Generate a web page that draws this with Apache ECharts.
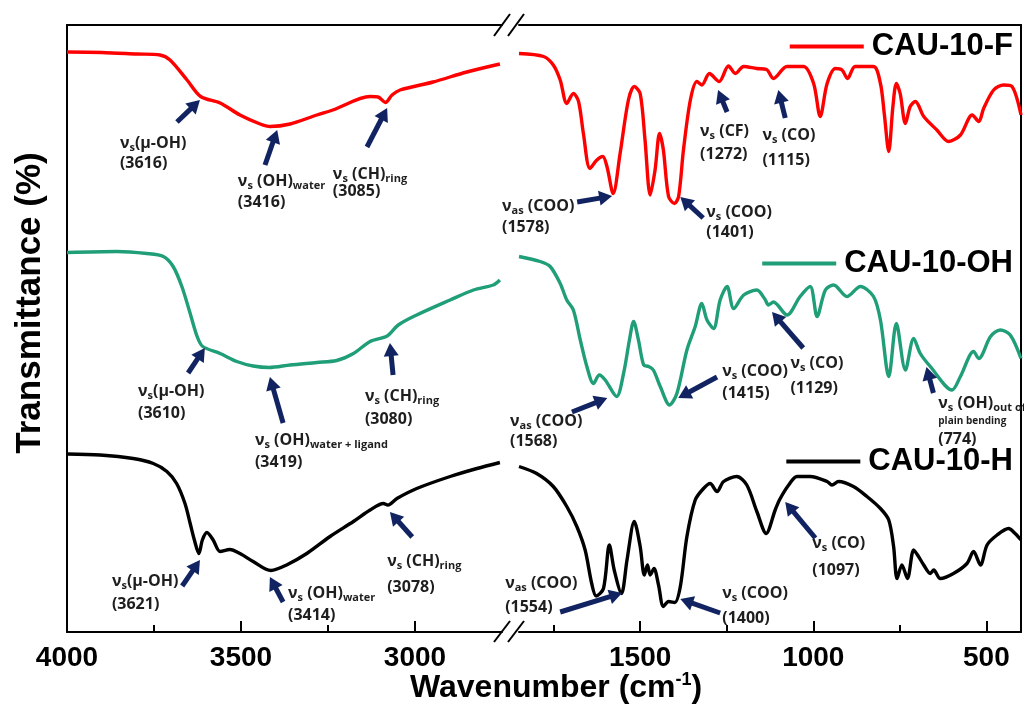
<!DOCTYPE html>
<html>
<head>
<meta charset="utf-8">
<title>FTIR spectra of CAU-10-F, CAU-10-OH and CAU-10-H</title>
<script src="https://cdn.jsdelivr.net/npm/echarts@6/dist/echarts.min.js"></script>
<style>
  html, body { margin: 0; padding: 0; background: #ffffff; }
  #chart { width: 1024px; height: 704px; }
</style>
</head>
<body>
<div id="chart"></div>
<script>
// ---- Spectra: [wavenumber (cm-1), transmittance (offset, a.u.)] ----
const fHigh = [
  [4000,116.0],[3900,115.9],[3800,115.6],[3733,115.4],[3704,114.4],[3655,110.4],[3616,107.1],
  [3560,105.8],[3503,103.4],[3445,101.6],[3416,101.1],[3359,101.6],[3282,103.4],[3236,104.4],
  [3129,107.1],[3106,107.0],[3085,105.9],[3066,107.4],[3043,108.4],[2948,110.0],[2851,112.0],[2756,113.6]
];
const fLow = [
  [1850,115.7],[1779,115.1],[1751,113.4],[1731,110.4],[1712,105.7],[1693,107.7],[1678,106.1],
  [1664,99.7],[1645,92.7],[1625,94.4],[1608,95.1],[1596,93.1],[1578,87.7],[1558,95.7],[1534,106.4],
  [1517,109.1],[1500,107.7],[1486,98.4],[1471,87.4],[1457,92.4],[1444,99.7],[1433,96.4],[1418,87.1],
  [1401,85.7],[1389,87.1],[1375,96.4],[1355,106.4],[1336,110.1],[1322,109.4],[1300,111.7],[1272,110.1],
  [1245,113.2],[1225,111.7],[1201,113.1],[1163,112.7],[1135,112.5],[1115,110.7],[1076,113.1],
  [1028,113.1],[999,109.7],[980,103.1],[960,109.7],[936,112.7],[917,112.4],[901,110.7],[879,113.1],
  [826,113.1],[806,109.7],[795,103.7],[782,96.1],[770,105.1],[760,109.7],[749,107.7],[734,101.7],
  [720,105.1],[705,106.1],[681,103.1],[643,100.4],[609,98.1],[575,99.4],[541,103.4],[522,102.1],
  [508,104.7],[479,108.4],[450,109.4],[426,109.1],[400,103.4]
];
const ohHigh = [
  [4000,75.9],[3857,76.1],[3771,75.7],[3723,75.1],[3695,73.1],[3670,69.1],[3646,63.7],[3626,59.1],
  [3610,57.1],[3560,55.7],[3512,54.1],[3465,53.2],[3419,52.9],[3359,53.4],[3282,53.9],[3225,54.3],
  [3177,55.7],[3129,58.1],[3080,59.2],[3048,61.4],[2995,63.4],[2899,66.4],[2832,68.4],[2775,69.4],[2756,70.4]
];
const ohLow = [
  [1850,75.1],[1789,74.1],[1760,73.1],[1731,69.7],[1712,66.4],[1693,64.4],[1673,58.4],[1654,53.1],
  [1635,49.7],[1618,51.4],[1601,50.4],[1568,47.1],[1548,51.7],[1531,58.4],[1519,62.1],[1505,58.4],
  [1490,53.4],[1476,53.1],[1462,52.4],[1442,49.1],[1415,45.4],[1394,47.7],[1365,56.4],[1341,61.1],
  [1322,65.7],[1307,62.4],[1288,60.7],[1269,66.4],[1249,69.1],[1230,64.7],[1201,67.4],[1163,68.4],
  [1140,66.6],[1129,65.4],[1115,66.0],[1076,63.4],[1038,67.1],[1009,69.1],[989,63.1],[965,68.4],
  [941,69.4],[903,67.1],[864,69.1],[826,67.1],[806,62.4],[782,51.1],[760,61.7],[734,52.4],[710,58.7],
  [691,55.7],[662,53.1],[599,48.4],[575,51.1],[537,56.1],[522,54.7],[488,59.1],[460,60.4],[431,59.4],[400,54.7]
];
const hHigh = [
  [4000,35.6],[3905,35.4],[3810,34.7],[3752,33.7],[3713,32.1],[3685,29.7],[3661,25.7],[3646,21.7],
  [3634,18.4],[3621,15.7],[3611,18.4],[3598,19.9],[3580,18.4],[3560,16.1],[3532,16.5],[3503,15.7],
  [3465,14.1],[3414,12.3],[3369,13.4],[3311,15.7],[3244,19.1],[3177,22.1],[3129,24.4],[3091,25.7],
  [3078,25.4],[3052,26.7],[2995,28.7],[2899,31.1],[2822,32.7],[2756,33.9]
];
const hLow = [
  [1850,33.1],[1799,31.7],[1751,29.1],[1712,25.1],[1683,21.1],[1659,16.4],[1640,9.7],[1627,7.2],
  [1606,8.7],[1589,17.4],[1575,12.4],[1554,7.7],[1538,14.4],[1517,22.1],[1500,17.1],[1488,11.4],
  [1479,13.4],[1471,11.4],[1460,12.7],[1447,9.4],[1433,5.1],[1418,6.1],[1400,5.9],[1384,9.1],
  [1365,19.1],[1341,26.4],[1317,28.7],[1298,29.7],[1278,28.1],[1259,30.1],[1221,31.1],[1192,29.4],
  [1163,24.1],[1136,19.7],[1110,24.4],[1097,26.5],[1071,29.4],[1047,31.1],[1009,31.1],[960,30.1],
  [946,29.4],[927,30.1],[884,29.1],[845,27.1],[806,24.7],[782,22.4],[768,17.1],[758,10.7],[744,13.4],
  [728,10.7],[710,16.4],[696,15.1],[681,13.4],[662,11.7],[652,12.4],[633,10.7],[595,11.7],[556,13.7],
  [537,16.1],[517,13.4],[498,17.4],[469,19.4],[436,20.7],[417,19.7],[400,18.4]
];

const sampleNames = ['CAU-10-F', 'CAU-10-OH', 'CAU-10-H'];

// ---- Broken wavenumber axis: two ranges ----
const highRange = [2750, 4000];
const lowRange = [400, 1850];
const highLabels = [4000, 3500, 3000];
const highMajorTicks = [3500, 3000];
const highMinorTicks = [3750, 3250];
const lowLabels = [1500, 1000, 500];
const lowMajorTicks = [1500, 1000, 500];
const lowMinorTicks = [1750, 1250, 750];

// ---- Band assignments: text lines, text anchor, arrow tail, arrow tip (data coords) ----
const bands = [
  { panel: 0, gap: 20, lines: ['{n|ν}{s|s}{t|(μ-OH)}', '{u|(3616)}'], at: [3848, 99.8], from: [3684, 102.0], to: [3618, 106.4] },
  { panel: 0, gap: 21, lines: ['{n|ν}{s|s}{t| (OH)}{s|water}', '{u|(3416)}'], at: [3509, 92.2], from: [3431, 93.4], to: [3396, 100.4] },
  { panel: 0, gap: 17, lines: ['{n|ν}{s|s}{t| (CH)}{s|ring}', '{u|(3085)}'], at: [3236, 93.6], from: [3138, 97.0], to: [3080, 104.8] },
  { panel: 1, gap: 21, lines: ['{n|ν}{s|as}{t| (COO)}', '{u|(1578)}'], at: [1899, 87.2], from: [1682, 86.0], to: [1581, 87.2] },
  { panel: 1, gap: 20, lines: ['{n|ν}{s|s}{t| (COO)}', '{u|(1401)}'], at: [1309, 86.0], from: [1318, 82.8], to: [1384, 87.0] },
  { panel: 1, gap: 23, lines: ['{n|ν}{s|s}{t| (CF)}', '{u|(1272)}'], at: [1327, 102.1], from: [1249, 104.0], to: [1275, 108.4] },
  { panel: 1, gap: 25, lines: ['{n|ν}{s|s}{t| (CO)}', '{u|(1115)}'], at: [1147, 101.4], from: [1081, 102.8], to: [1101, 108.4] },

  { panel: 0, gap: 22, lines: ['{n|ν}{s|s}{t|(μ-OH)}', '{u|(3610)}'], at: [3796, 50.2], from: [3652, 51.8], to: [3604, 56.8] },
  { panel: 0, gap: 22, lines: ['{n|ν}{s|s}{t| (OH)}{s|water + ligand}', '{u|(3419)}'], at: [3460, 40.4], from: [3379, 41.8], to: [3417, 51.0] },
  { panel: 0, gap: 23, lines: ['{n|ν}{s|s}{t| (CH)}{s|ring}', '{u|(3080)}'], at: [3144, 49.2], from: [3063, 51.4], to: [3072, 57.8] },
  { panel: 1, gap: 20, lines: ['{n|ν}{s|as}{t| (COO)}', '{u|(1568)}'], at: [1876, 44.2], from: [1697, 44.0], to: [1595, 46.8] },
  { panel: 1, gap: 22, lines: ['{n|ν}{s|s}{t| (COO)}', '{u|(1415)}'], at: [1263, 54.2], from: [1278, 51.0], to: [1390, 46.8] },
  { panel: 1, gap: 25, lines: ['{n|ν}{s|s}{t| (CO)}', '{u|(1129)}'], at: [1066, 55.8], from: [1029, 56.8], to: [1119, 64.0] },
  { panel: 1, gap: 20, lines: ['{n|ν}{s|s}{t| (OH)}{s|out of}', '{p|plain bending}', '{u|(774)}'], at: [639, 47.8], from: [653, 47.8], to: [673, 53.0] },

  { panel: 0, gap: 23, lines: ['{n|ν}{s|s}{t|(μ-OH)}', '{u|(3621)}'], at: [3871, 12.2], from: [3669, 9.2], to: [3618, 14.4] },
  { panel: 0, gap: 22, lines: ['{n|ν}{s|s}{t| (OH)}{s|water}', '{u|(3414)}'], at: [3365, 9.8], from: [3379, 6.0], to: [3417, 11.0] },
  { panel: 0, gap: 26, lines: ['{n|ν}{s|s}{t| (CH)}{s|ring}', '{u|(3078)}'], at: [3080, 16.2], from: [3008, 19.0], to: [3072, 24.0] },
  { panel: 1, gap: 24, lines: ['{n|ν}{s|as}{t| (COO)}', '{u|(1554)}'], at: [1890, 11.8], from: [1731, 4.0], to: [1552, 7.8] },
  { panel: 1, gap: 25, lines: ['{n|ν}{s|s}{t| (COO)}', '{u|(1400)}'], at: [1263, 9.8], from: [1269, 3.8], to: [1384, 6.6] },
  { panel: 1, gap: 27, lines: ['{n|ν}{s|s}{t| (CO)}', '{u|(1097)}'], at: [1003, 19.8], from: [994, 18.8], to: [1081, 26.0] }
];

// ---- Styling ----
const COLORS = ['#ff0000', '#1f9e78', '#000000'];
const ARROW = '#112361';
const NOTE_TEXT = '#1e1e1e';
const AXIS_FONT = 'Liberation Sans, Arial, sans-serif';
const NOTE_FONT = 'Open Sans, DejaVu Sans, sans-serif';
const Y_MAX = 121.4;
const PLOT_TOP = 25, PLOT_HEIGHT = 607;
const HIGH_LEFT = 67, HIGH_WIDTH = 435;
const LOW_LEFT = 519, LOW_WIDTH = 502;

const frameLine = { show: true, lineStyle: { color: '#000', width: 2 } };

function panelAxes(gridIndex, range, labels, majors, minors) {
  return [
    { // bottom axis: labels + major ticks
      type: 'value', gridIndex, min: range[0], max: range[1], inverse: true, position: 'bottom',
      axisLine: frameLine,
      axisTick: { show: true, inside: true, length: 11, customValues: majors, lineStyle: { color: '#000', width: 2 } },
      axisLabel: {
        show: true, customValues: labels, margin: 12, color: '#000',
        fontFamily: AXIS_FONT, fontWeight: 'bold', fontSize: 28,
        formatter: function (v) { return String(v); }
      },
      splitLine: { show: false }
    },
    { // bottom axis: minor ticks only
      type: 'value', gridIndex, min: range[0], max: range[1], inverse: true, position: 'bottom',
      axisLine: { show: false },
      axisTick: { show: true, inside: true, length: 7, customValues: minors, lineStyle: { color: '#000', width: 2 } },
      axisLabel: { show: false },
      splitLine: { show: false }
    },
    { // top frame line
      type: 'value', gridIndex, min: range[0], max: range[1], inverse: true, position: 'top',
      axisLine: frameLine, axisTick: { show: false }, axisLabel: { show: false }, splitLine: { show: false }
    }
  ];
}

function frameYAxis(gridIndex, position) {
  return {
    type: 'value', gridIndex, min: 0, max: Y_MAX, position,
    axisLine: frameLine, axisTick: { show: false }, axisLabel: { show: false }, splitLine: { show: false }
  };
}

function spectrum(name, data, panel, color) {
  return {
    type: 'line', name, data,
    xAxisIndex: panel * 3, yAxisIndex: panel,
    symbol: 'none', smooth: 0.3, silent: true,
    lineStyle: { color, width: 3.4 }, itemStyle: { color },
    emphasis: { disabled: true }
  };
}

function sampleLegend(name, top) {
  return {
    data: [name], right: 11, top, padding: 0, orient: 'horizontal',
    icon: 'rect', itemWidth: 74, itemHeight: 4, selectedMode: false,
    textStyle: { fontFamily: AXIS_FONT, fontWeight: 'bold', fontSize: 31, color: '#000', padding: [0, 0, 0, 3] }
  };
}

const chart = echarts.init(document.getElementById('chart'), null, { renderer: 'canvas' });

chart.setOption({
  animation: false,
  backgroundColor: '#ffffff',
  grid: [
    { left: HIGH_LEFT, top: PLOT_TOP, width: HIGH_WIDTH, height: PLOT_HEIGHT, containLabel: false },
    { left: LOW_LEFT, top: PLOT_TOP, width: LOW_WIDTH, height: PLOT_HEIGHT, containLabel: false }
  ],
  xAxis: [
    ...panelAxes(0, highRange, highLabels, highMajorTicks, highMinorTicks),
    ...panelAxes(1, lowRange, lowLabels, lowMajorTicks, lowMinorTicks)
  ],
  yAxis: [frameYAxis(0, 'left'), frameYAxis(1, 'right')],
  title: {
    left: 410, top: 671, padding: 0,
    text: '{a|Wavenumber (cm}{b|-1}{a|)}',
    textStyle: {
      rich: {
        a: { fontFamily: AXIS_FONT, fontWeight: 'bold', fontSize: 32, color: '#000', lineHeight: 34 },
        b: { fontFamily: AXIS_FONT, fontWeight: 'bold', fontSize: 18, color: '#000', lineHeight: 34, verticalAlign: 'top', padding: [0, 0, 14, 0] }
      }
    }
  },
  legend: [
    sampleLegend(sampleNames[0], 31),
    sampleLegend(sampleNames[1], 248),
    sampleLegend(sampleNames[2], 446)
  ],
  series: [
    spectrum(sampleNames[0], fHigh, 0, COLORS[0]),
    spectrum(sampleNames[0], fLow, 1, COLORS[0]),
    spectrum(sampleNames[1], ohHigh, 0, COLORS[1]),
    spectrum(sampleNames[1], ohLow, 1, COLORS[1]),
    spectrum(sampleNames[2], hHigh, 0, COLORS[2]),
    spectrum(sampleNames[2], hLow, 1, COLORS[2])
  ]
});

// ---- Overlay: axis break marks, y-axis title, band arrows and labels ----
function toPixel(panel, pt) {
  return chart.convertToPixel({ seriesIndex: panel }, pt);
}

function arrowShapes(p0, p1) {
  const dx = p1[0] - p0[0], dy = p1[1] - p0[1];
  const len = Math.hypot(dx, dy) || 1;
  const ux = dx / len, uy = dy / len;
  const head = 13, half = 7.5;
  const bx = p1[0] - ux * head, by = p1[1] - uy * head;
  return [
    { type: 'line', z: 20, silent: true,
      shape: { x1: p0[0], y1: p0[1], x2: bx + ux * 2, y2: by + uy * 2 },
      style: { stroke: ARROW, lineWidth: 5, lineCap: 'butt' } },
    { type: 'polygon', z: 20, silent: true,
      shape: { points: [[p1[0], p1[1]], [bx - uy * half, by + ux * half], [bx + uy * half, by - ux * half]] },
      style: { fill: ARROW } }
  ];
}

function noteRich(gap) {
  const base = { fontFamily: NOTE_FONT, fontWeight: 'bold', fill: NOTE_TEXT };
  return {
    n: Object.assign({ fontSize: 16, lineHeight: 20 }, base),
    t: Object.assign({ fontSize: 16, lineHeight: 20 }, base),
    s: Object.assign({ fontSize: 11, lineHeight: 10, verticalAlign: 'bottom' }, base),
    p: Object.assign({ fontSize: 10, lineHeight: 16 }, base),
    u: Object.assign({ fontSize: 16, lineHeight: Math.max(2 * (gap - 10), 12) }, base)
  };
}

const overlay = [];

// break marks "//" on the top and bottom frame lines
const breakX = HIGH_LEFT + HIGH_WIDTH;
const topY = PLOT_TOP, bottomY = PLOT_TOP + PLOT_HEIGHT;
[-8, 6].forEach(function (dx) {
  overlay.push({ type: 'line', z: 30, silent: true,
    shape: { x1: breakX + dx, y1: topY + 11, x2: breakX + dx + 16, y2: topY - 11 },
    style: { stroke: '#000', lineWidth: 2 } });
  overlay.push({ type: 'line', z: 30, silent: true,
    shape: { x1: breakX + dx, y1: bottomY + 10, x2: breakX + dx + 16, y2: bottomY - 11 },
    style: { stroke: '#000', lineWidth: 2 } });
});

// y-axis title
overlay.push({
  type: 'text', z: 30, silent: true, x: 30, y: 303, rotation: Math.PI / 2,
  style: { text: 'Transmittance (%)', fontFamily: AXIS_FONT, fontWeight: 'bold', fontSize: 35,
           fill: '#000', align: 'center', verticalAlign: 'middle' }
});

bands.forEach(function (b) {
  const tail = toPixel(b.panel, b.from);
  const tip = toPixel(b.panel, b.to);
  const anchor = toPixel(b.panel, b.at);
  arrowShapes(tail, tip).forEach(function (g) { overlay.push(g); });
  overlay.push({
    type: 'text', z: 25, silent: true, x: anchor[0], y: anchor[1],
    style: { text: b.lines.join('\n'), rich: noteRich(b.gap), align: 'left', verticalAlign: 'top',
             fontFamily: NOTE_FONT, fontWeight: 'bold', fontSize: 16, fill: NOTE_TEXT }
  });
});

chart.setOption({ graphic: { elements: overlay } });
</script>
</body>
</html>
